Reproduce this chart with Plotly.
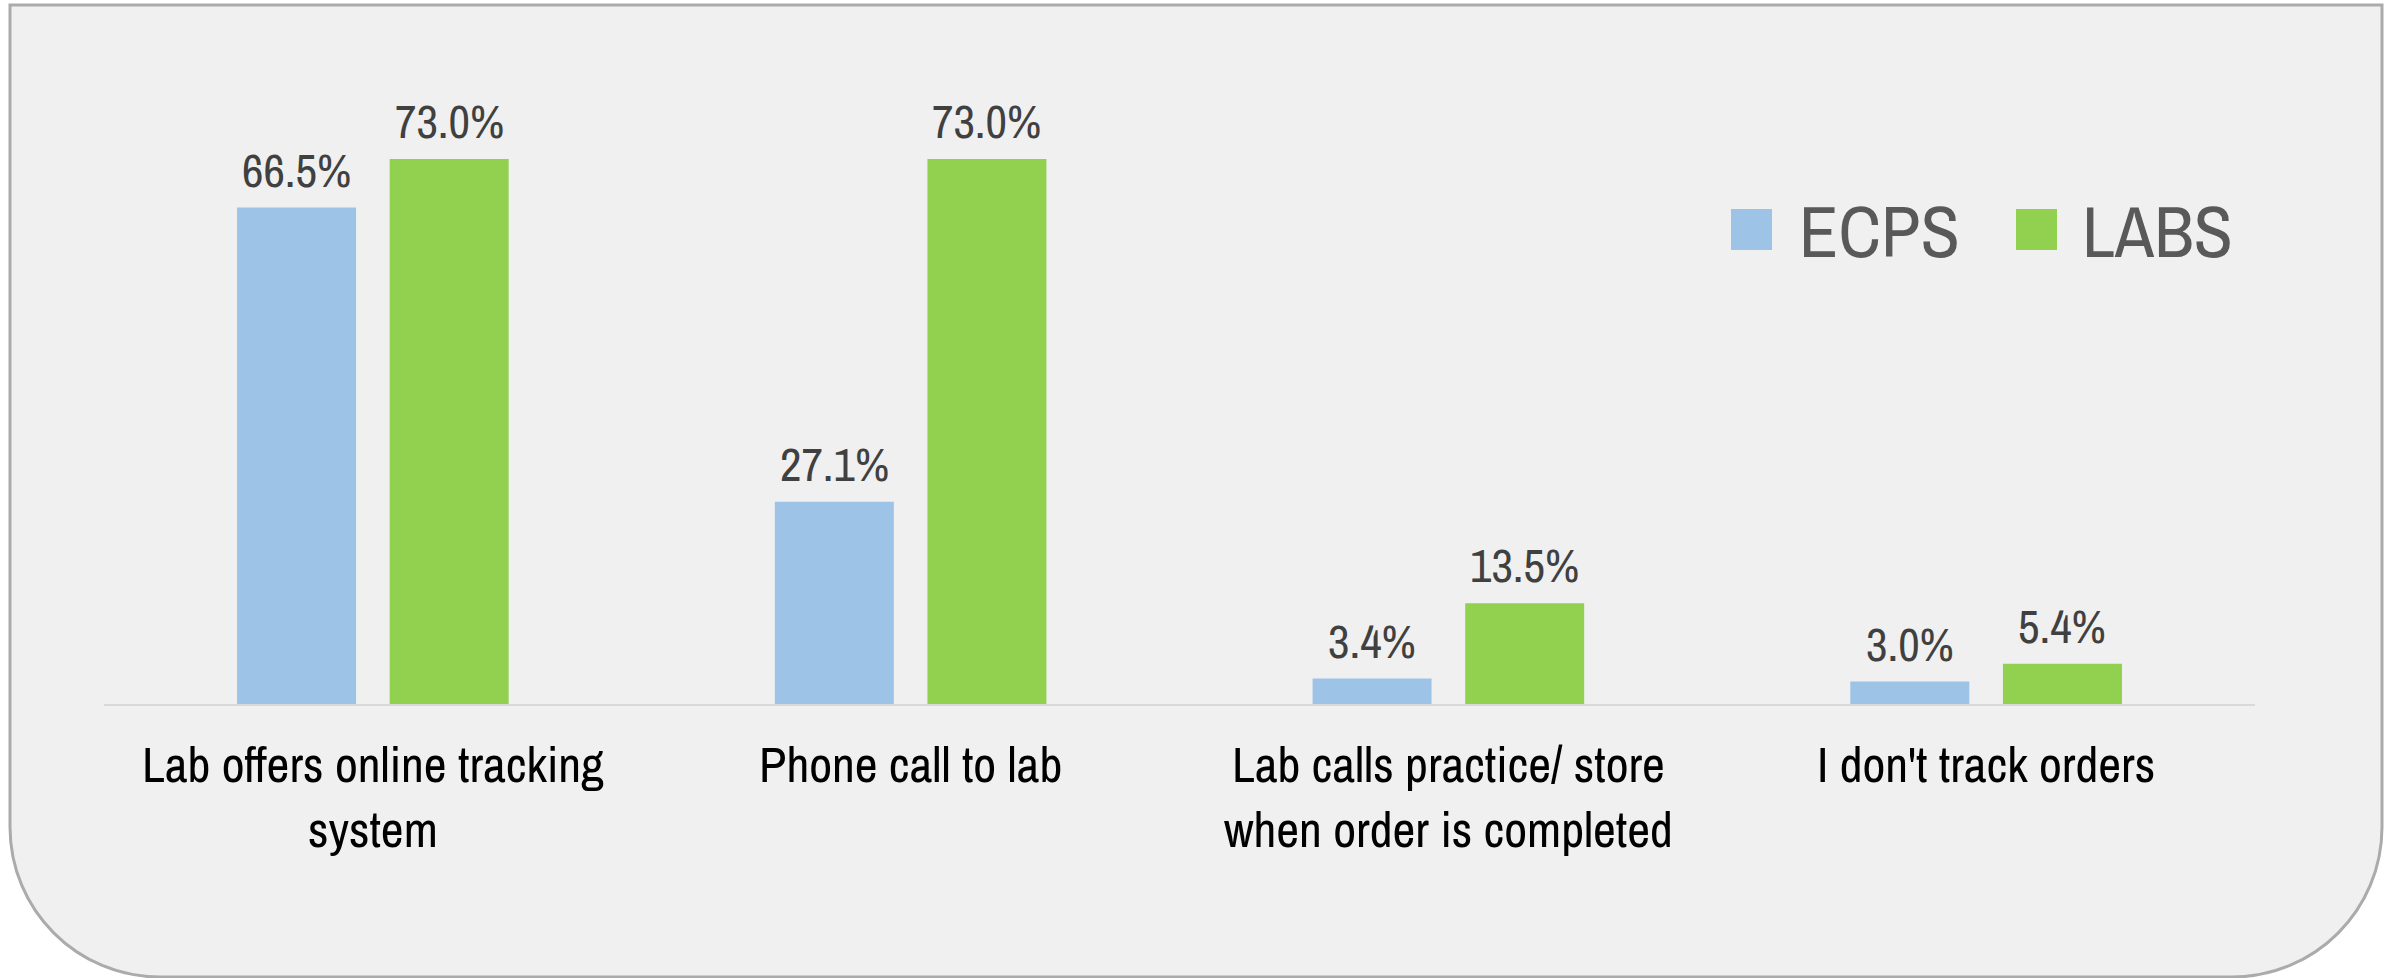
import plotly.graph_objects as go

# Survey: how are lab orders tracked?
categories = [
    "Lab offers online tracking<br>system",
    "Phone call to lab",
    "Lab calls practice/ store<br>when order is completed",
    "I don't track orders",
]
series_names = ["ECPS", "LABS"]
ecps_values = [66.5, 27.1, 3.4, 3.0]
labs_values = [73.0, 73.0, 13.5, 5.4]

W, H = 2395, 978
ML, MR, MT, MB = 104, 140, 60, 274
PW, PH = W - ML - MR, H - MT - MB
Y_MAX = 86.26

ECPS_COLOR = "#9DC3E6"
LABS_COLOR = "#92D050"
NARROW = "Archivo Narrow, Liberation Sans Narrow, Arial Narrow, sans-serif"

BAR_W = 0.2213
BAR_GAP = 0.0625
offsets = [-BAR_GAP / 2 - BAR_W, BAR_GAP / 2]
colors = [ECPS_COLOR, LABS_COLOR]
xs = list(range(len(categories)))


def px(x):
    return (x - ML) / PW


def py(y):
    return (H - MB - y) / PH


fig = go.Figure()
annotations = []
for name, vals, off, col in zip(series_names, [ecps_values, labs_values], offsets, colors):
    fig.add_trace(go.Bar(
        x=xs, y=vals, name=name, width=BAR_W, offset=off,
        marker=dict(color=col, line=dict(width=0)),
        showlegend=False, hoverinfo="skip",
    ))
    for xi, v in zip(xs, vals):
        annotations.append(dict(
            x=xi + off + BAR_W / 2, y=v, xref="x", yref="y",
            text=f"{v:.1f}%", showarrow=False, yanchor="bottom",
            yshift=4, font=dict(family=NARROW, size=47, color="#404040"),
        ))

# Rounded panel behind the chart (square top corners, rounded bottom corners)
L, T, R, B, r = 10, 5, 2382, 977, 150
k = 0.5523 * r
path = (
    f"M {px(L)},{py(T)} L {px(R)},{py(T)} L {px(R)},{py(B - r)} "
    f"C {px(R)},{py(B - r + k)} {px(R - r + k)},{py(B)} {px(R - r)},{py(B)} "
    f"L {px(L + r)},{py(B)} "
    f"C {px(L + r - k)},{py(B)} {px(L)},{py(B - r + k)} {px(L)},{py(B - r)} Z"
)
shapes = [dict(type="path", path=path, xref="paper", yref="paper", layer="below",
               fillcolor="#F0F0F0", line=dict(color="#ABABAB", width=3))]

# Legend: colour squares with series names
legend_items = [(1731, ECPS_COLOR, 1797, series_names[0]),
                (2016, LABS_COLOR, 2080, series_names[1])]
for sx, col, tx, label in legend_items:
    shapes.append(dict(type="rect", xref="paper", yref="paper",
                       x0=px(sx), x1=px(sx + 41), y0=py(250), y1=py(209),
                       fillcolor=col, line=dict(width=0)))
    annotations.append(dict(x=px(tx), y=py(230), xref="paper", yref="paper",
                            text=label, showarrow=False, xanchor="left", yanchor="middle",
                            font=dict(family=NARROW, size=72, color="#595959")))

fig.update_layout(
    width=W, height=H,
    margin=dict(l=ML, r=MR, t=MT, b=MB),
    paper_bgcolor="white", plot_bgcolor="rgba(0,0,0,0)",
    barmode="overlay",
    xaxis=dict(range=[-0.5, 3.5], tickvals=xs, ticktext=categories,
               showline=True, linecolor="#D9D9D9", linewidth=2,
               showgrid=False, zeroline=False, ticks="",
               ticklabelstandoff=16,
               tickfont=dict(family=NARROW, size=50, color="#000000")),
    yaxis=dict(range=[0, Y_MAX], visible=False, showgrid=False, zeroline=False),
    shapes=shapes, annotations=annotations, showlegend=False,
)

fig.write_html("out.html")
